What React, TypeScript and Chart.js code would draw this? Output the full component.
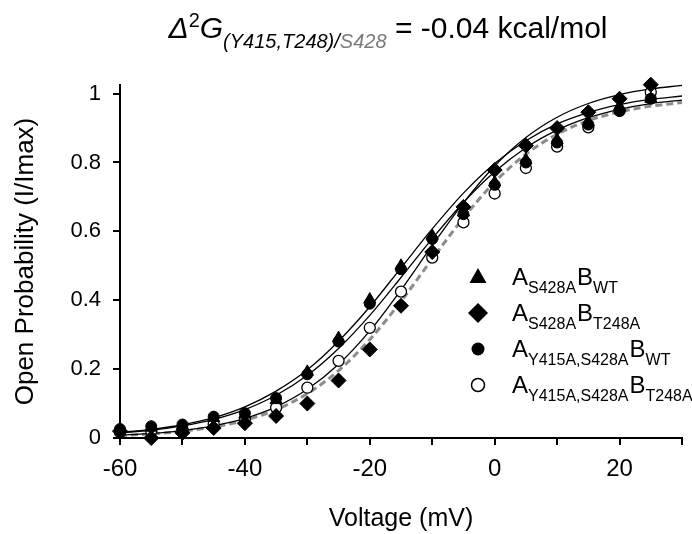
import React, { useEffect, useRef } from 'react';
import { Chart, registerables } from 'chart.js';

Chart.register(...registerables);

// Measured voltages (mV)
const voltages = [-60, -55, -50, -45, -40, -35, -30, -25, -20, -15, -10, -5, 0, 5, 10, 15, 20, 25];

// Open probability per construct
const triangleValues = [0.025, 0.03, 0.035, 0.058, 0.068, 0.11, 0.192, 0.29, 0.402, 0.5, 0.587, 0.655, 0.742, 0.807, 0.865, 0.917, 0.962, 0.985];
const diamondValues = [0.02, 0.0, 0.015, 0.029, 0.043, 0.064, 0.1, 0.167, 0.257, 0.384, 0.54, 0.671, 0.778, 0.849, 0.9, 0.946, 0.985, 1.026];
const filledCircleValues = [0.026, 0.034, 0.039, 0.062, 0.072, 0.116, 0.185, 0.28, 0.39, 0.49, 0.578, 0.65, 0.735, 0.8, 0.858, 0.91, 0.95, 0.985];
const openCircleValues = [0.017, 0.02, 0.025, 0.04, 0.055, 0.088, 0.146, 0.224, 0.32, 0.425, 0.524, 0.626, 0.71, 0.784, 0.846, 0.902, 0.95, 1.004];

// Fitted curves
const fitVoltages = [-60, -55, -50, -45, -40, -35, -30, -25, -20, -15, -10, -5, 0, 5, 10, 15, 20, 25, 30];
const fitTriangle = [0.016, 0.025, 0.0385, 0.059, 0.0905, 0.136, 0.198, 0.281, 0.381, 0.494, 0.607, 0.711, 0.797, 0.863, 0.912, 0.945, 0.968, 0.983, 0.993];
const fitFilledCircle = [0.0144, 0.0225, 0.035, 0.054, 0.0825, 0.124, 0.182, 0.26, 0.356, 0.466, 0.579, 0.684, 0.773, 0.843, 0.894, 0.93, 0.9545, 0.971, 0.981];
const fitDiamond = [0.0081, 0.0132, 0.0217, 0.0353, 0.0569, 0.0905, 0.1413, 0.214, 0.311, 0.43, 0.559, 0.683, 0.79, 0.8725, 0.9315, 0.9713, 0.9972, 1.0136, 1.0239];
const fitOpenCircle = [0.0073, 0.012, 0.0196, 0.032, 0.0516, 0.0824, 0.1288, 0.1958, 0.286, 0.397, 0.52, 0.639, 0.743, 0.824, 0.882, 0.9215, 0.947, 0.9637, 0.9739];

// Axis ticks
const xTickLabels = [-60, -40, -20, 0, 20];
const yTickLabels = [0, 0.2, 0.4, 0.6, 0.8, 1];

// Text
const xTitle = 'Voltage (mV)';
const yTitle = 'Open Probability (I/Imax)';
const legendRows = [
  { marker: 'triangle', subA: 'S428A', subB: 'WT' },
  { marker: 'diamond', subA: 'S428A', subB: 'T248A' },
  { marker: 'filled', subA: 'Y415A,S428A', subB: 'WT' },
  { marker: 'open', subA: 'Y415A,S428A', subB: 'T248A' },
];

const FAM = '"Liberation Sans", Arial, Helvetica, sans-serif';

const titleParts = [
  { t: '\u0394', f: `italic 30px ${FAM}`, dy: 0, c: '#000' },
  { t: '2', f: `20px ${FAM}`, dy: -11, c: '#000' },
  { t: 'G', f: `italic 30px ${FAM}`, dy: 0, c: '#000' },
  { t: '(Y415,T248)/', f: `italic 20px ${FAM}`, dy: 10, c: '#000' },
  { t: 'S428', f: `italic 20px ${FAM}`, dy: 10, c: '#7a7a7a' },
  { t: ' = -0.04 kcal/mol', f: `30px ${FAM}`, dy: 0, c: '#000' },
];

const pts = (xs: number[], ys: number[]) => xs.map((x, i) => ({ x, y: ys[i] }));

const annotPlugin = {
  id: 'annot',
  afterDraw(chart: any) {
    const ctx = chart.ctx as CanvasRenderingContext2D;
    ctx.save();
    // Title
    let total = 0;
    for (const p of titleParts) {
      ctx.font = p.f;
      total += ctx.measureText(p.t).width;
    }
    let x = 388 - total / 2;
    const base = 38;
    ctx.textBaseline = 'alphabetic';
    ctx.textAlign = 'left';
    for (const p of titleParts) {
      ctx.font = p.f;
      ctx.fillStyle = p.c;
      ctx.fillText(p.t, x, base + p.dy);
      x += ctx.measureText(p.t).width;
    }
    // Legend
    const mx = 478;
    const rowsY = [277, 313, 349, 385];
    legendRows.forEach((r, i) => {
      const y = rowsY[i];
      ctx.fillStyle = '#000';
      ctx.strokeStyle = '#000';
      ctx.beginPath();
      if (r.marker === 'triangle') {
        ctx.moveTo(mx, y - 9);
        ctx.lineTo(mx + 8.5, y + 6);
        ctx.lineTo(mx - 8.5, y + 6);
        ctx.closePath();
        ctx.fill();
      } else if (r.marker === 'diamond') {
        ctx.moveTo(mx, y - 10);
        ctx.lineTo(mx + 10, y);
        ctx.lineTo(mx, y + 10);
        ctx.lineTo(mx - 10, y);
        ctx.closePath();
        ctx.fill();
      } else if (r.marker === 'filled') {
        ctx.arc(mx, y, 6.5, 0, Math.PI * 2);
        ctx.fill();
      } else {
        ctx.arc(mx, y, 6.5, 0, Math.PI * 2);
        ctx.fillStyle = '#fff';
        ctx.fill();
        ctx.lineWidth = 1.5;
        ctx.stroke();
        ctx.fillStyle = '#000';
      }
      let tx = 512;
      ctx.font = `24px ${FAM}`;
      ctx.fillText('A', tx, y + 8);
      tx += ctx.measureText('A').width;
      ctx.font = `16px ${FAM}`;
      ctx.fillText(r.subA, tx, y + 16);
      tx += ctx.measureText(r.subA).width + 1;
      ctx.font = `24px ${FAM}`;
      ctx.fillText('B', tx, y + 8);
      tx += ctx.measureText('B').width;
      ctx.font = `16px ${FAM}`;
      ctx.fillText(r.subB, tx, y + 16);
    });
    ctx.restore();
  },
};

export default function App() {
  const ref = useRef<HTMLCanvasElement | null>(null);

  useEffect(() => {
    const canvas = ref.current;
    if (!canvas) return;

    const scatterBase = { showLine: false, clip: false as any };
    const lineBase = {
      showLine: true,
      pointRadius: 0,
      fill: false,
      cubicInterpolationMode: 'monotone' as const,
      clip: false as any,
    };

    const chart = new Chart(canvas, {
      type: 'scatter',
      data: {
        datasets: [
          {
            ...scatterBase,
            label: 'triangle',
            data: pts(voltages, triangleValues),
            pointStyle: 'triangle',
            pointRadius: 7,
            backgroundColor: '#000',
            borderColor: '#000',
            borderWidth: 1,
          },
          {
            ...scatterBase,
            label: 'diamond',
            data: pts(voltages, diamondValues),
            pointStyle: 'rectRot',
            pointRadius: 7.5,
            backgroundColor: '#000',
            borderColor: '#000',
            borderWidth: 1,
          },
          {
            ...scatterBase,
            label: 'filled',
            data: pts(voltages, filledCircleValues),
            pointStyle: 'circle',
            pointRadius: 5.5,
            backgroundColor: '#000',
            borderColor: '#000',
            borderWidth: 1,
          },
          {
            ...scatterBase,
            label: 'open',
            data: pts(voltages, openCircleValues),
            pointStyle: 'circle',
            pointRadius: 5.5,
            backgroundColor: '#fff',
            borderColor: '#000',
            borderWidth: 1.3,
          },
          {
            ...lineBase,
            label: 'fitTriangle',
            data: pts(fitVoltages, fitTriangle),
            borderColor: '#000',
            borderWidth: 1.3,
          },
          {
            ...lineBase,
            label: 'fitFilled',
            data: pts(fitVoltages, fitFilledCircle),
            borderColor: '#000',
            borderWidth: 1.3,
          },
          {
            ...lineBase,
            label: 'fitDiamond',
            data: pts(fitVoltages, fitDiamond),
            borderColor: '#000',
            borderWidth: 1.3,
          },
          {
            ...lineBase,
            label: 'fitOpen',
            data: pts(fitVoltages, fitOpenCircle),
            borderColor: '#8c8c8c',
            borderWidth: 3,
            borderDash: [7, 4],
          },
        ],
      },
      options: {
        responsive: false,
        animation: false,
        devicePixelRatio: 1,
        layout: { padding: { top: 85, right: 9, left: 0, bottom: 0 } },
        plugins: {
          legend: { display: false },
          tooltip: { enabled: false },
          title: { display: false },
        },
        scales: {
          x: {
            type: 'linear',
            min: -60,
            max: 30,
            afterFit: (s: any) => {
              s.height = 96;
            },
            ticks: {
              stepSize: 10,
              autoSkip: false,
              maxRotation: 0,
              includeBounds: false,
              padding: 10,
              color: '#000',
              font: { family: FAM, size: 24 },
              callback: (v: any) => (xTickLabels.includes(Number(v)) ? String(v) : ''),
            },
            grid: {
              drawOnChartArea: false,
              drawTicks: true,
              tickLength: 7,
              color: '#000',
              lineWidth: 2,
            },
            border: { display: true, color: '#000', width: 2 },
            title: {
              display: true,
              text: xTitle,
              color: '#000',
              font: { family: FAM, size: 25 },
              padding: { top: 0, bottom: 0 },
            },
          },
          y: {
            type: 'linear',
            min: 0,
            max: 1.025,
            afterFit: (s: any) => {
              s.width = 120;
            },
            ticks: {
              stepSize: 0.2,
              includeBounds: false,
              padding: 12,
              color: '#000',
              font: { family: FAM, size: 22 },
              callback: (v: any) => {
                const n = Math.round(Number(v) * 10) / 10;
                return yTickLabels.includes(n) ? String(n) : '';
              },
            },
            grid: {
              drawOnChartArea: false,
              drawTicks: true,
              tickLength: 7,
              color: '#000',
              lineWidth: 2,
            },
            border: { display: true, color: '#000', width: 2 },
            title: {
              display: true,
              text: yTitle,
              color: '#000',
              font: { family: FAM, size: 26 },
              padding: { top: 10, bottom: 0 },
            },
          },
        },
      },
      plugins: [annotPlugin],
    } as any);

    return () => chart.destroy();
  }, []);

  return (
    <div style={{ position: 'absolute', left: 0, top: 0, width: 692, height: 534, background: '#fff' }}>
      <canvas ref={ref} width={692} height={534} style={{ display: 'block', width: 692, height: 534 }} />
    </div>
  );
}
